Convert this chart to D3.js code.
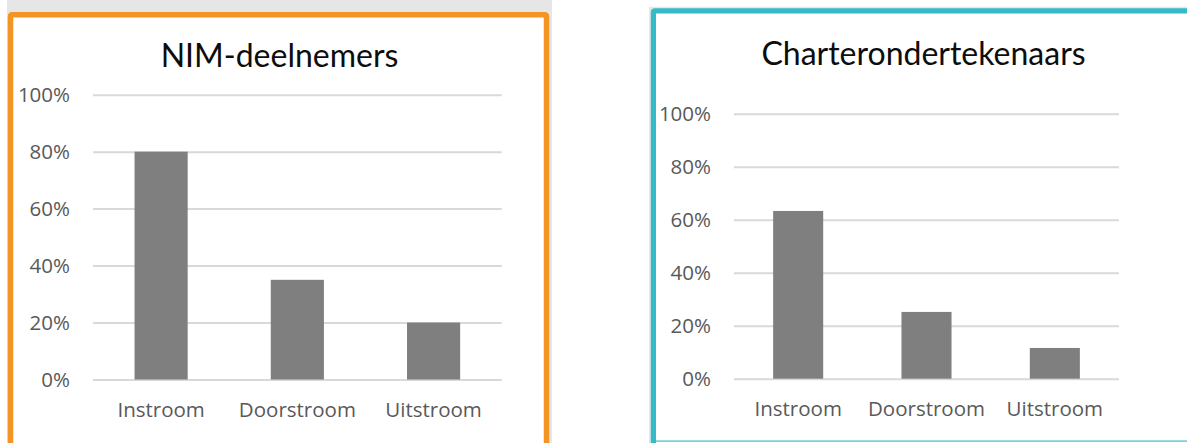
<!DOCTYPE html>
<html>
<head>
<meta charset="utf-8">
<script src="https://cdn.jsdelivr.net/npm/d3@7"></script>
<style>
  body { margin: 0; background: #fff; }
  svg { display: block; }
</style>
</head>
<body>
<div id="chart"></div>
<script>
// ---------- DATA ----------
const categories = ['Instroom', 'Doorstroom', 'Uitstroom'];
const nimValues = [80, 35, 20];
const charterValues = [63.3, 25.2, 11.6];
const yTicks = [0, 20, 40, 60, 80, 100];
const titles = ['NIM-deelnemers', 'Charterondertekenaars'];

const W = 1187, H = 443;

const svg = d3.select('#chart')
  .append('svg')
  .attr('width', W)
  .attr('height', H);

// ---------- FRAMES ----------
// left panel: grey shadow + orange frame
svg.append('rect')
  .attr('x', 7).attr('y', 0)
  .attr('width', 545).attr('height', H)
  .attr('fill', '#e6e6e6');
svg.append('rect')
  .attr('x', 10.5).attr('y', 14.8)
  .attr('width', 536).attr('height', H + 20)
  .attr('rx', 1.5)
  .attr('fill', '#fff')
  .attr('stroke', '#f39425')
  .attr('stroke-width', 5.5);

// right panel: grey shadow + teal frame
svg.append('rect')
  .attr('x', 649).attr('y', 6.7)
  .attr('width', W - 649).attr('height', H)
  .attr('fill', '#e6e6e6');
svg.append('rect')
  .attr('x', 653.4).attr('y', 10.8)
  .attr('width', W).attr('height', 460)
  .attr('rx', 1.5)
  .attr('fill', '#fff')
  .attr('stroke', '#35bbc8')
  .attr('stroke-width', 5.2);
svg.append('line')
  .attr('x1', 656).attr('x2', W)
  .attr('y1', 441.2).attr('y2', 441.2)
  .attr('stroke', '#72d5dd')
  .attr('stroke-width', 1.8);

//---------------------------------------//
//            CREATE CHART               //
//---------------------------------------//
function createChart(cfg) {
  const g = svg.append('g');

  const x = d3.scaleBand()
    .domain(categories)
    .range([cfg.left, cfg.right])
    .paddingInner(0.61)
    .paddingOuter(0.305);

  const y = d3.scaleLinear()
    .domain([0, 100])
    .range([cfg.bottom, cfg.top]);

  // ---------- GRID + Y LABELS ----------
  const yAxis = g.append('g')
    .attr('transform', `translate(${cfg.left},0)`)
    .call(d3.axisLeft(y)
      .tickValues(yTicks)
      .tickSize(-(cfg.right - cfg.left))
      .tickPadding(23)
      .tickFormat((d) => d + '%'));
  yAxis.select('.domain').remove();
  yAxis.selectAll('line')
    .attr('stroke', '#d9d9d9')
    .attr('stroke-width', 2);
  yAxis.selectAll('text')
    .attr('fill', '#595959')
    .style('font-family', '"Open Sans", sans-serif')
    .style('font-size', '20.5px');

  // ---------- BARS ----------
  g.selectAll('.bar')
    .data(cfg.values)
    .enter()
    .append('rect')
    .attr('class', 'bar')
    .attr('x', (d, i) => x(categories[i]))
    .attr('width', x.bandwidth())
    .attr('y', (d) => y(d))
    .attr('height', (d) => y(0) - y(d))
    .attr('fill', '#7f7f7f');

  // ---------- X LABELS ----------
  const xAxis = g.append('g')
    .attr('transform', `translate(0,${cfg.bottom})`)
    .call(d3.axisBottom(x).tickSize(0).tickPadding(23));
  xAxis.select('.domain').remove();
  xAxis.selectAll('text')
    .attr('fill', '#595959')
    .style('font-family', '"Open Sans", sans-serif')
    .style('font-size', '20.5px');

  // ---------- TITLE ----------
  g.append('text')
    .attr('x', cfg.titleX)
    .attr('y', cfg.titleY)
    .attr('text-anchor', 'middle')
    .attr('fill', '#0d0d0d')
    .style('font-family', 'Lato, sans-serif')
    .style('font-size', '32px')
    .text(cfg.title);
}

createChart({
  values: nimValues,
  title: titles[0],
  left: 93, right: 501.7,
  top: 94.7, bottom: 379.5,
  titleX: 279.5, titleY: 67
});

createChart({
  values: charterValues,
  title: titles[1],
  left: 734, right: 1119,
  top: 113.7, bottom: 378.7,
  titleX: 923.5, titleY: 65
});
</script>
</body>
</html>
